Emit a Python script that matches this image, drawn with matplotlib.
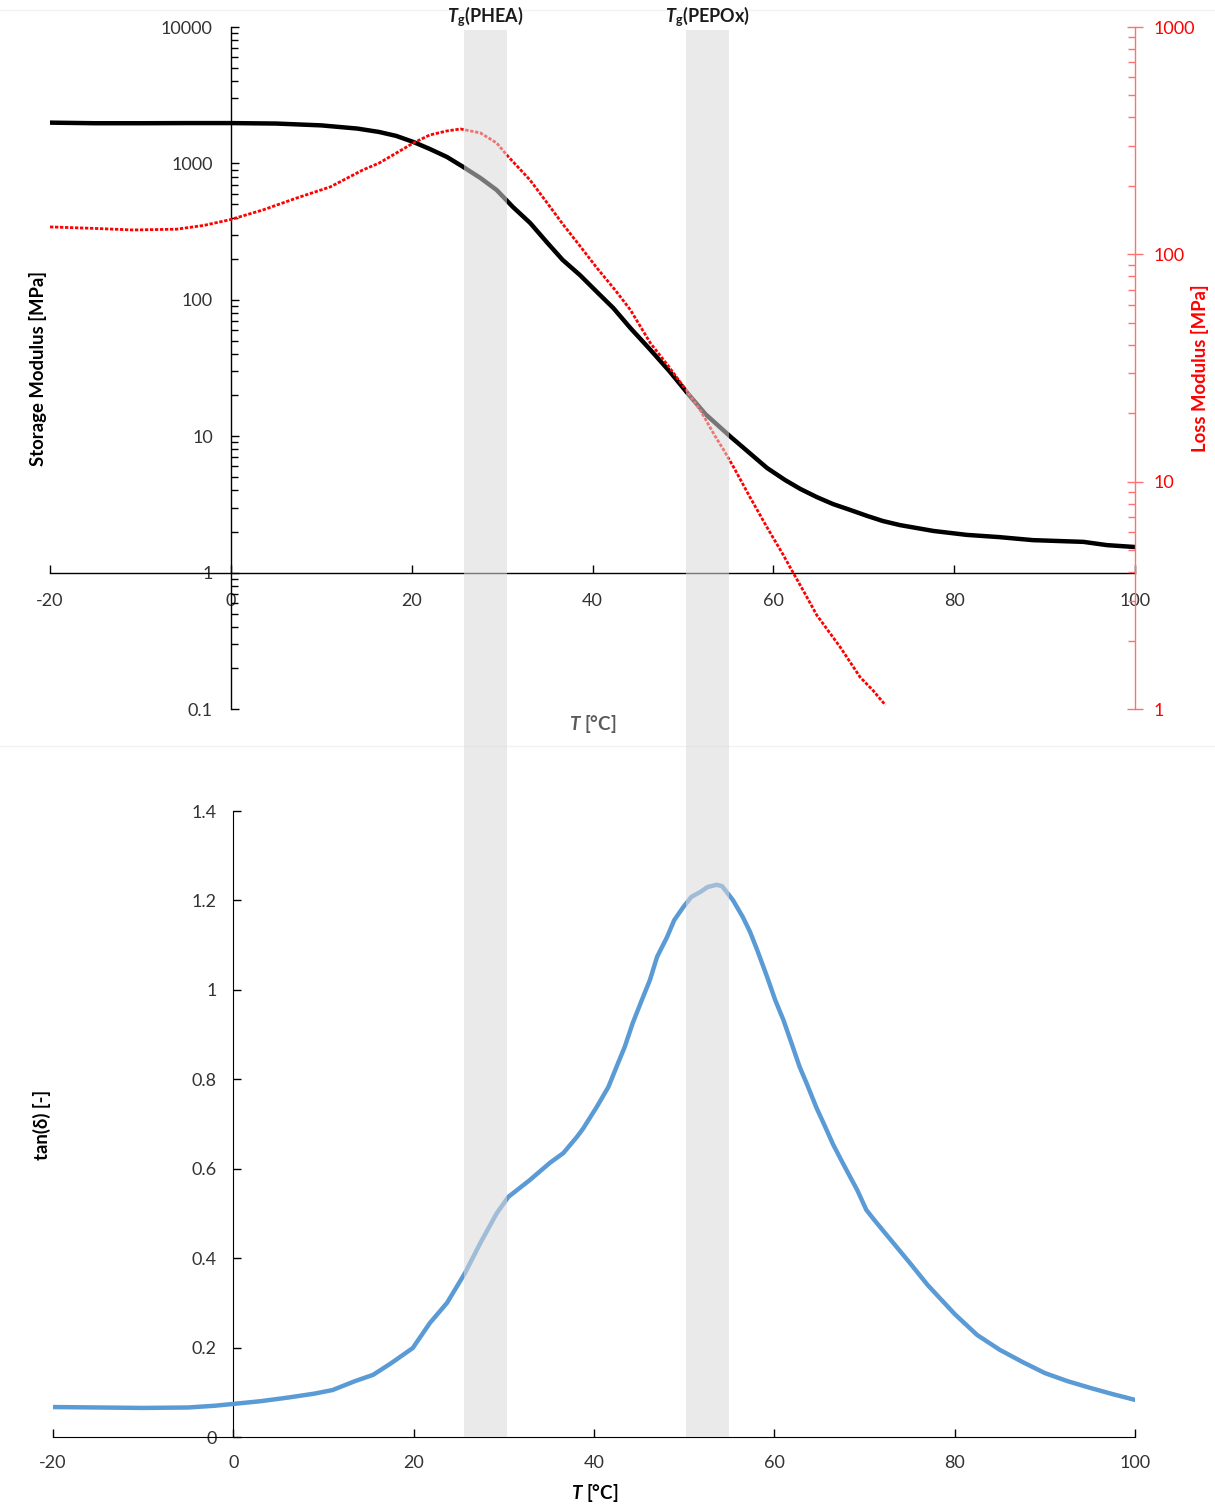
import numpy as np
import matplotlib
matplotlib.use("Agg")
import matplotlib.pyplot as plt
from matplotlib.ticker import FixedLocator, FuncFormatter, LogLocator, NullFormatter
from matplotlib.lines import Line2D

plt.rcParams['font.family'] = ['Lato', 'DejaVu Sans']
plt.rcParams['mathtext.fontset'] = 'custom'
plt.rcParams['mathtext.rm'] = 'Lato'
plt.rcParams['mathtext.it'] = 'Lato:italic'
plt.rcParams['mathtext.bf'] = 'Lato:bold'
plt.rcParams['mathtext.bfit'] = 'Lato:bold:italic'

# ---------------- data ----------------
T_storage = [-20, -15, -10, -5, 0, 5, 10, 14, 16.4, 18.3, 20.2, 22, 23.9, 25.7, 27.6, 29.4,
             31.2, 33.1, 35, 36.7, 38.6, 40.5, 42.3, 44.2, 46.4, 48.5, 50.5, 52.5, 55.2,
             57.3, 59.3, 61.3, 63, 64.8, 66.6, 68.5, 70.4, 72.1, 74, 77.7, 81.4, 85, 88.7,
             92, 94.3, 96.9, 100]
storage_modulus = [1990, 1970, 1970, 1975, 1975, 1960, 1900, 1800, 1700, 1590, 1435, 1276,
                   1115, 942, 782, 638, 479, 366, 262, 196, 152, 114, 87, 62, 43, 30, 20.7,
                   14.5, 10.0, 7.6, 5.85, 4.77, 4.10, 3.58, 3.18, 2.88, 2.60, 2.39, 2.23,
                   2.02, 1.89, 1.82, 1.73, 1.70, 1.68, 1.59, 1.54]

T_loss = [-20, -15, -10.8, -6, -3, -0.1, 3.6, 7.3, 11, 14.6, 16.4, 18.3, 20.2, 22, 23.9,
          25.4, 27.6, 29.4, 30.5, 33.1, 35, 36.7, 38.6, 40.5, 42.5, 44.2, 46.4, 48.3, 50.1,
          51.9, 53.5, 54.5, 55.6, 57.4, 59.3, 61.1, 61.9, 63.4, 64.8, 67.4, 69.6, 71, 72.4]
loss_modulus = [132, 130, 128, 129, 134, 142, 157, 177, 198, 235, 252, 279, 309, 335, 349,
                356, 342, 309, 274, 212, 168, 136, 109, 87, 69.7, 56.9, 40.7, 32.6, 26.1,
                20.7, 16.0, 13.8, 11.6, 8.57, 6.3, 4.76, 4.17, 3.27, 2.59, 1.87, 1.38, 1.21,
                1.04]

T_tan = [-20, -15, -10, -5, -2, 0, 3, 6, 9, 11, 13.5, 15.5, 17.5, 19.9, 21.8, 23.7, 25.7,
         27.4, 29.2, 30.5, 32.9, 35.1, 36.6, 38.1, 38.8, 40.3, 41.6, 42.5, 43.4, 44.3, 45.3,
         46.2, 47.0, 48.1, 48.9, 49.9, 50.8, 51.8, 52.6, 53.6, 54.2, 55.4, 56.5, 57.3, 58.1,
         59.2, 60.1, 61.0, 61.9, 62.8, 63.6, 64.7, 65.5, 66.5, 67.4, 68.4, 69.2, 70.2, 71.1,
         72.0, 75, 77, 80, 82.5, 85, 87.5, 90, 92.5, 95, 97.5, 100]
tan_delta = [0.067, 0.066, 0.065, 0.066, 0.070, 0.074, 0.080, 0.088, 0.097, 0.105, 0.125,
             0.139, 0.165, 0.199, 0.255, 0.300, 0.367, 0.434, 0.500, 0.537, 0.575, 0.613,
             0.635, 0.671, 0.690, 0.738, 0.783, 0.828, 0.872, 0.926, 0.977, 1.022, 1.074,
             1.118, 1.156, 1.185, 1.208, 1.219, 1.230, 1.235, 1.232, 1.201, 1.163, 1.130,
             1.089, 1.029, 0.977, 0.933, 0.881, 0.828, 0.790, 0.735, 0.700, 0.655, 0.620,
             0.582, 0.552, 0.508, 0.485, 0.463, 0.390, 0.340, 0.275, 0.228, 0.195, 0.168,
             0.143, 0.125, 0.110, 0.096, 0.083]

bands = [(25.8, 30.5), (50.3, 55.1)]
band_labels = ['PHEA', 'PEPOx']
x_ticks = [-20, 0, 20, 40, 60, 80, 100]
storage_ticks = [0.1, 1, 10, 100, 1000, 10000]
loss_ticks = [1, 10, 100, 1000]
tan_ticks = [0, 0.2, 0.4, 0.6, 0.8, 1.0, 1.2, 1.4]

# ---------------- figure ----------------
W, H = 1215, 1508
fig = plt.figure(figsize=(W / 100, H / 100), dpi=100)

def fx(px):
    return px / W

def fy(py):
    return 1 - py / H

tick_col = '#333333'
fs = 13
fmt = FuncFormatter(lambda v, p: '{:g}'.format(v))

# --- top panel ---
ax = fig.add_axes([fx(50), fy(709), fx(1135) - fx(50), fy(27) - fy(709)])
ax.set_xlim(-20, 100)
ax.set_yscale('log')
ax.set_ylim(0.1, 10000)
ax.plot(T_storage, storage_modulus, color='black', lw=3.2, solid_capstyle='round', zorder=3)
for s in ['top', 'right']:
    ax.spines[s].set_visible(False)
ax.spines['left'].set_position(('data', 0))
ax.spines['bottom'].set_position(('data', 1))
for s in ['left', 'bottom']:
    ax.spines[s].set_color('black')
    ax.spines[s].set_linewidth(1.0)
ax.xaxis.set_major_locator(FixedLocator(x_ticks))
ax.xaxis.set_major_formatter(fmt)
ax.yaxis.set_major_locator(FixedLocator(storage_ticks))
ax.yaxis.set_major_formatter(fmt)
ax.yaxis.set_minor_locator(LogLocator(base=10, subs=np.arange(2, 10), numticks=20))
ax.yaxis.set_minor_formatter(NullFormatter())
ax.tick_params(axis='x', direction='in', length=6, width=1, pad=15,
               labelsize=fs, labelcolor=tick_col)
ax.tick_params(axis='y', which='major', direction='in', length=6, width=1, pad=13,
               labelsize=fs, labelcolor=tick_col)
ax.tick_params(axis='y', which='minor', direction='in', length=5, width=1)
ax.patch.set_alpha(0)

ax2 = ax.twinx()
ax2.set_yscale('log')
ax2.set_ylim(1, 1000)
ax2.plot(T_loss, loss_modulus, color='#ff0000', lw=2.0, linestyle=(0, (1.2, 0.6)), zorder=3)
for s in ['top', 'left', 'bottom']:
    ax2.spines[s].set_visible(False)
ax2.spines['right'].set_color('#ff7070')
ax2.spines['right'].set_linewidth(1.0)
ax2.yaxis.set_major_locator(FixedLocator(loss_ticks))
ax2.yaxis.set_major_formatter(fmt)
ax2.yaxis.set_minor_locator(LogLocator(base=10, subs=np.arange(2, 10), numticks=20))
ax2.yaxis.set_minor_formatter(NullFormatter())
ax2.tick_params(axis='y', which='major', direction='inout', length=12, width=1,
                color='#ff7070', pad=7, labelsize=fs, labelcolor='#ff0000')
ax2.tick_params(axis='y', which='minor', direction='in', length=5, width=1, color='#ff7070')

fig.text(fx(38), fy(368), 'Storage Modulus [MPa]', rotation=90, ha='center', va='center',
         fontsize=13.3, fontweight='bold', color='black')
fig.text(fx(1200), fy(368), 'Loss Modulus [MPa]', rotation=90, ha='center', va='center',
         fontsize=13.3, fontweight='bold', color='#ff0000')
fig.text(fx(593), fy(724), r'$\mathbfit{T}$ [°C]', ha='center', va='center',
         fontsize=13.5, fontweight='bold', color='#5a5a5a')

# --- bottom panel ---
bx = fig.add_axes([fx(53), fy(1437), fx(1135) - fx(53), fy(811) - fy(1437)])
bx.set_xlim(-20, 100)
bx.set_ylim(0, 1.4)
bx.plot(T_tan, tan_delta, color='#5b9bd5', lw=3.2, solid_capstyle='round', zorder=3)
for s in ['top', 'right']:
    bx.spines[s].set_visible(False)
bx.spines['left'].set_position(('data', 0))
bx.spines['bottom'].set_position(('data', 0))
bx.xaxis.set_major_locator(FixedLocator(x_ticks))
bx.xaxis.set_major_formatter(fmt)
bx.yaxis.set_major_locator(FixedLocator(tan_ticks))
bx.yaxis.set_major_formatter(fmt)
bx.tick_params(axis='x', direction='in', length=6, width=1, pad=13,
               labelsize=fs, labelcolor=tick_col)
bx.tick_params(axis='y', direction='in', length=6, width=1, pad=12,
               labelsize=fs, labelcolor=tick_col)
bx.patch.set_alpha(0)

fig.text(fx(42), fy(1125), 'tan(δ) [-]', rotation=90, ha='center', va='center',
         fontsize=13.3, fontweight='bold', color='black')
fig.text(fx(595), fy(1493), r'$\mathbfit{T}$ [°C]', ha='center', va='center',
         fontsize=13.5, fontweight='bold', color='black')

# --- overlay bands ---
ov = fig.add_axes([fx(50), fy(1437), fx(1135) - fx(50), fy(30) - fy(1437)], zorder=10)
ov.set_xlim(-20, 100)
ov.set_ylim(0, 1)
ov.axis('off')
ov.patch.set_alpha(0)
for (a, b), lab in zip(bands, band_labels):
    ov.axvspan(a, b, color='#d9d9d9', alpha=0.55, lw=0)
    ov.text((a + b) / 2, 1.0 + 13 / 1407, r'$\mathbfit{T}_{\mathbf{g}}$(' + lab + ')',
            ha='center', va='center', fontsize=13, fontweight='bold', color='#1a1a1a')

# faint separators
for py in [10, 746]:
    fig.add_artist(Line2D([0, 1], [fy(py), fy(py)], color='#f2f2f2', lw=1))

fig.savefig('out.png', dpi=100)
